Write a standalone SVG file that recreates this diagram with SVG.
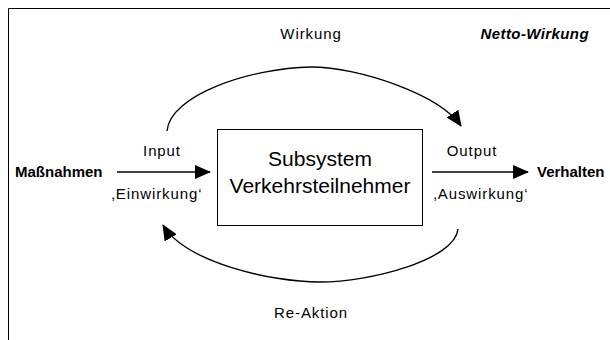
<svg xmlns="http://www.w3.org/2000/svg" width="610" height="340" viewBox="0 0 610 340">
  <style>
    .lbl { font-family: "Liberation Sans", Arial, sans-serif; font-size: 15px; fill: #000; }
    .sp { letter-spacing: 0.9px; }
    .bold { font-weight: bold; }
    .big { font-family: "Liberation Sans", Arial, sans-serif; font-size: 21px; fill: #000; }
    .edge { fill: none; stroke: #000; stroke-width: 1.4; }
  </style>
  <defs>
    <marker id="arrow" viewBox="0 0 16 14" refX="15" refY="7" markerWidth="16" markerHeight="14" markerUnits="userSpaceOnUse" orient="auto">
      <path d="M0,0 L16,7 L0,14 z" fill="#000"/>
    </marker>
  </defs>
  <rect width="610" height="340" fill="#fff"/>

  <!-- partial frame -->
  <path d="M8.5,340 V8.5 H610" fill="none" stroke="#000" stroke-width="1"/>

  <text class="lbl sp" x="311" y="39" text-anchor="middle">Wirkung</text>
  <text class="lbl bold" x="589" y="39" text-anchor="end" font-size="16" font-style="italic" letter-spacing="0.4">Netto-Wirkung</text>

  <g id="massnahmen">
    <text class="lbl bold" x="15" y="177">Maßnahmen</text>
  </g>

  <g id="subsystem">
    <rect x="217.5" y="129.5" width="205" height="96" fill="#fff" stroke="#000" stroke-width="1"/>
    <text class="big" x="320" y="166" text-anchor="middle">Subsystem</text>
    <text class="big" x="320" y="193" text-anchor="middle">Verkehrsteilnehmer</text>
  </g>

  <g id="verhalten">
    <text class="lbl bold" x="537" y="177">Verhalten</text>
  </g>

  <g id="connectors">
    <line class="edge" x1="117" y1="172" x2="210" y2="172" marker-end="url(#arrow)"/>
    <line class="edge" x1="432" y1="172" x2="528" y2="172" marker-end="url(#arrow)"/>
    <path class="edge" d="M167,131 C170,95 250,68 311,67 C360,67 440,95 461,126" marker-end="url(#arrow)"/>
    <path class="edge" d="M458,229 C455,260 370,282 320,282 C270,282 185,262 163,225" marker-end="url(#arrow)"/>
    <text class="lbl sp" x="162" y="156" text-anchor="middle">Input</text>
    <text class="lbl sp" x="157" y="199" text-anchor="middle">‚Einwirkung‘</text>
    <text class="lbl sp" x="472" y="156" text-anchor="middle">Output</text>
    <text class="lbl sp" x="481" y="199" text-anchor="middle">‚Auswirkung‘</text>
  </g>

  <text class="lbl sp" x="311" y="318" text-anchor="middle">Re-Aktion</text>
</svg>
